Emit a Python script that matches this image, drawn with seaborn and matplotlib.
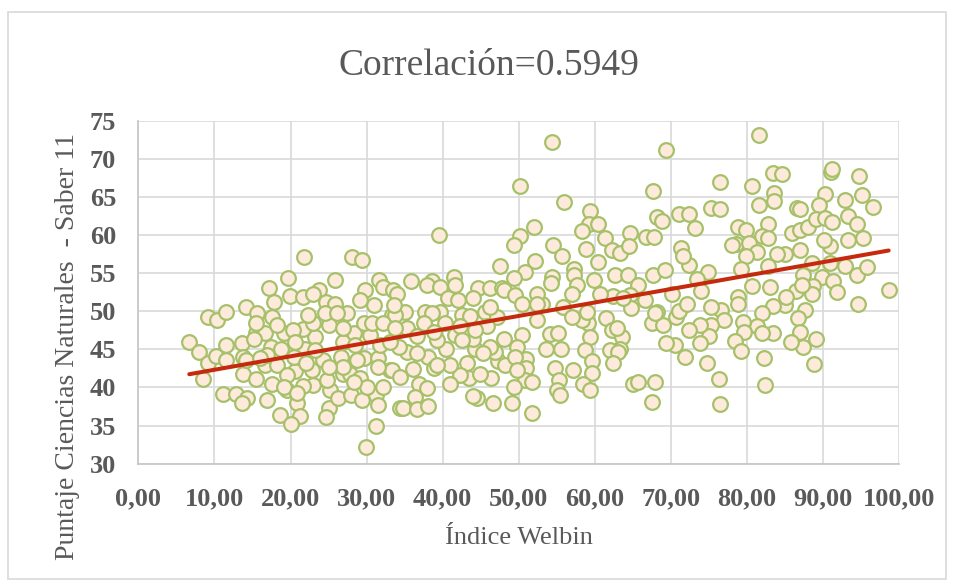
import matplotlib
matplotlib.use("Agg")
import matplotlib.pyplot as plt
import seaborn as sns
import pandas as pd
from matplotlib.patches import Rectangle

# ---- data ----
welbin = [
    21.8, 28.1, 29.4, 19.7, 25.8, 31.6, 17.2, 23.7, 29.8, 32.1,
    9.1, 10.4, 11.5, 14.2, 15.6, 17.6, 17.8, 19.9, 21.6, 22.9, 24.6, 25.8, 27.4, 29.1, 31.0, 33.4,
    6.7, 8.0, 9.1, 8.5, 10.2, 11.5, 11.5, 13.6, 13.8, 13.8, 15.5, 15.5, 16.7, 17.5, 16.7, 17.6,
    19.5, 20.8, 21.3, 18.6, 20.1, 11.1, 12.8, 14.3, 16.9, 13.6, 25.0, 24.7, 22.9, 21.7, 25.2,
    26.3, 28.0, 29.4, 31.2, 31.5, 31.2, 29.9, 34.4, 20.6, 22.8, 24.8, 26.9, 27.8, 29.1, 29.6,
    31.5, 32.2, 33.1, 26.7, 24.3, 21.9, 23.2, 21.7, 22.9, 25.1, 26.9, 28.3, 30.4, 29.6, 31.8,
    19.1, 18.8, 16.9, 15.2, 14.2, 18.2, 19.5, 19.1,
    54.3, 50.1, 56.0, 39.5, 59.4, 59.2, 60.4, 58.3, 61.3, 52.0, 50.2, 49.4, 54.5, 55.7, 58.8,
    60.4, 62.2, 63.3, 64.6, 64.5, 66.7, 67.7, 68.1, 52.1, 47.5, 50.8, 49.4, 57.2, 57.2, 54.4,
    54.2, 57.7, 59.9, 62.6, 64.4, 65.7, 67.7, 41.5, 35.8, 38.6, 37.9, 39.6, 41.6, 44.6, 46.2,
    47.8, 33.5,
    34.0, 40.7, 48.0, 49.5, 53.0, 55.8, 62.4, 64.6, 66.6, 64.8, 68.1, 67.5, 61.5, 59.1, 59.4,
    58.3, 57.0, 62.2, 63.5, 63.3, 62.0, 63.0, 62.4, 58.7, 59.6, 59.6, 58.5, 59.3, 57.1, 54.8,
    55.3, 55.0, 55.4, 55.5, 53.6, 54.1, 55.2, 52.4, 50.4, 49.7, 50.9, 50.9, 50.8, 51.7, 49.4,
    49.1, 51.8, 46.6, 44.5, 44.0, 46.4, 47.3, 48.2, 49.5, 46.9, 44.2, 43.2, 43.4, 42.3, 44.9,
    41.0, 40.9, 40.4, 39.2, 38.1, 38.8, 36.1, 35.3, 34.3, 33.3, 36.9, 37.9, 36.4, 34.8, 36.6,
    38.1, 42.6, 43.6, 45.6, 47.1, 45.8, 48.0, 44.0, 41.6, 39.6, 37.7, 35.0, 33.7, 37.7, 35.3,
    40.3, 44.0, 42.0, 52.4, 57.0, 58.9, 60.7, 65.0, 65.7, 67.5, 67.9,
    69.3, 81.5, 76.4, 80.7, 83.4, 84.6, 91.0, 91.2, 94.7, 95.1, 96.5, 92.8, 90.3, 89.5, 83.5,
    83.5, 81.6, 86.5, 86.9, 75.2, 76.5, 71.0, 72.4, 68.8, 73.2, 78.8, 79.9, 82.7, 81.9, 82.8,
    78.5, 80.2, 81.3, 79.8, 79.2, 74.8, 73.4, 72.4, 71.3, 71.6, 69.2, 67.8, 85.9, 86.9, 88.0,
    89.0, 90.2, 91.2, 93.3, 94.4, 95.2, 93.3, 90.9, 90.1, 86.9, 85.0, 83.9, 82.8, 87.4, 88.5,
    90.9, 92.9, 94.4, 95.8, 89.8, 91.3, 98.6, 80.6, 83.0, 78.0,
    94.6, 91.8, 88.7, 88.5, 87.6, 86.7, 87.0, 89.0, 87.3, 85.8, 88.8, 85.0, 83.4, 82.0, 83.4,
    81.3, 82.0, 82.2, 82.4, 79.4, 79.6, 78.4, 79.2, 78.8, 78.8, 76.6, 77.0, 75.3, 75.3, 75.0,
    73.8, 73.8, 72.3, 74.7, 76.3, 76.4, 71.8, 70.5, 69.4, 69.0, 70.7, 71.0, 67.9, 72.1, 74.0,
    70.1, 86.4, 87.2, 85.1,
    15.5, 18.2, 16.0, 20.3, 20.6, 20.4, 22.3, 23.2, 22.1, 24.5, 26.1, 26.9, 26.9, 25.0, 28.5,
    28.7, 30.7, 32.2, 31.5, 33.1, 30.0, 28.3, 20.8, 33.6, 38.6, 33.7, 37.5, 38.8, 36.6, 36.6,
    39.2, 34.4, 46.2, 44.2, 42.3, 42.5, 46.2, 45.3, 49.7, 50.4, 52.4, 63.7, 62.9,
]
puntaje = [
    57.1, 57.1, 56.7, 54.3, 54.1, 54.1, 53.0, 52.8, 52.8, 53.2,
    49.2, 48.8, 49.9, 50.5, 49.8, 49.3, 51.2, 52.0, 51.8, 52.3, 51.2, 51.0, 49.7, 51.5, 50.8, 49.5,
    46.0, 44.7, 43.2, 41.1, 44.1, 45.6, 43.6, 45.8, 44.0, 41.8, 41.1, 47.2, 47.1, 45.3, 42.9, 40.4,
    39.7, 37.9, 36.2, 36.4, 35.2, 39.1, 39.1, 38.6, 38.3, 37.9, 37.3, 36.1, 40.3, 40.2, 39.7,
    38.6, 39.0, 38.4, 39.0, 37.7, 34.9, 32.2, 37.3, 42.2, 42.3, 41.0, 41.8, 41.8, 41.2, 43.8,
    43.9, 40.1, 42.3, 44.0, 43.6, 45.1, 46.6, 47.6, 48.4, 48.2, 46.0, 47.2, 46.9, 48.5, 45.6,
    47.1, 45.1, 44.2, 46.4, 43.6, 42.9, 41.6, 40.1,
    72.2, 66.4, 64.3, 60.0, 63.2, 61.5, 61.4, 60.5, 59.6, 61.1, 59.9, 58.7, 58.7, 57.2, 58.1,
    56.4, 58.0, 57.7, 60.2, 58.6, 59.7, 65.8, 62.4, 56.6, 55.9, 55.1, 54.4, 55.5, 54.8, 54.5,
    53.7, 53.4, 54.1, 54.7, 54.7, 53.4, 54.7, 54.5, 54.0, 54.0, 53.4, 53.2, 53.4, 53.0, 53.1,
    53.0, 52.8,
    52.3, 51.7, 52.8, 52.1, 50.9, 50.6, 52.0, 52.1, 51.5, 50.4, 49.9, 48.4, 49.1, 48.4, 46.6,
    48.8, 49.3, 47.5, 46.6, 45.1, 44.9, 44.6, 43.2, 44.9, 43.4, 41.9, 40.5, 39.7, 42.3, 42.6,
    41.0, 39.7, 39.0, 45.0, 45.1, 47.0, 47.1, 48.8, 46.9, 45.3, 43.7, 42.5, 41.0, 40.7, 40.0,
    37.9, 36.6, 38.0, 38.6, 38.9, 41.2, 43.4, 42.9, 44.0, 44.7, 45.0, 43.2, 41.2, 41.6, 41.8,
    40.4, 42.9, 45.1, 46.2, 44.0, 42.6, 42.4, 44.6, 45.3, 42.3, 40.5, 39.9, 38.8, 37.3, 37.1,
    37.6, 49.5, 49.4, 49.9, 49.3, 48.0, 46.4, 46.4, 46.9, 49.9, 49.9, 49.9, 49.5, 48.0, 47.8,
    48.4, 51.7, 51.5, 52.3, 52.3, 49.9, 52.3, 40.5, 40.7, 38.1, 40.7,
    71.2, 73.1, 66.9, 66.4, 68.1, 68.0, 68.3, 68.6, 67.7, 65.2, 63.7, 64.6, 65.4, 63.9, 65.5,
    64.4, 64.0, 63.5, 63.4, 63.6, 63.4, 62.8, 62.8, 61.8, 60.9, 61.0, 60.6, 61.4, 59.9, 59.6,
    58.8, 59.0, 57.8, 57.2, 55.5, 55.1, 54.2, 56.1, 58.3, 57.2, 55.4, 59.8, 60.2, 60.7, 61.1,
    62.1, 62.2, 61.7, 62.5, 61.5, 59.6, 59.4, 58.5, 59.3, 58.0, 57.5, 57.5, 55.9, 54.7, 56.3,
    56.3, 55.9, 54.7, 55.8, 54.5, 53.9, 52.8, 53.3, 53.2, 58.7,
    51.0, 52.5, 53.3, 52.3, 50.2, 49.1, 47.3, 46.4, 45.3, 45.9, 43.1, 50.8, 50.7, 49.8, 47.2,
    48.1, 47.1, 43.8, 40.3, 48.6, 47.3, 46.1, 44.8, 51.9, 50.9, 50.2, 48.8, 50.5, 48.2, 46.7,
    48.2, 45.8, 47.5, 43.2, 41.1, 37.8, 44.0, 45.6, 45.8, 48.2, 49.3, 50.0, 49.7, 50.9, 52.6,
    52.3, 52.6, 53.4, 51.9,
    48.4, 48.2, 43.8, 47.5, 46.0, 44.0, 49.5, 44.9, 43.2, 49.7, 49.7, 47.8, 42.7, 42.7, 45.6,
    43.6, 48.4, 48.4, 42.7, 46.0, 40.1, 40.7, 39.2, 50.8, 49.7, 47.8, 48.4, 47.3, 46.7, 44.5,
    42.9, 41.4, 50.6, 47.5, 48.0, 46.2, 45.3, 44.5, 42.3, 51.0, 51.0, 51.7, 47.8,
]
x_ticks = [0, 10, 20, 30, 40, 50, 60, 70, 80, 90, 100]
y_ticks = [30, 35, 40, 45, 50, 55, 60, 65, 70, 75]
title = "Correlación=0.5949"
x_label = "Índice Welbin"
y_label = "Puntaje Ciencias Naturales  - Saber 11"

df = pd.DataFrame({"welbin": welbin, "puntaje": puntaje})

sns.set_theme(style="white")
plt.rcParams["font.family"] = ["Liberation Serif", "DejaVu Serif"]

W, H = 954, 582
fig = plt.figure(figsize=(W / 100, H / 100), dpi=100)
ax = fig.add_axes([138.3 / W, 1 - 463.6 / H, (899.3 - 138.3) / W, (463.6 - 120.7) / H])

sns.regplot(
    data=df, x="welbin", y="puntaje", ax=ax, ci=None,
    scatter_kws=dict(s=112, facecolor="#FDEADB", edgecolor="#A6C16A",
                     linewidths=1.6, alpha=1, zorder=3),
    line_kws=dict(color="#C52A0E", linewidth=2.9, zorder=4),
)

ax.set_xlim(0, 100)
ax.set_ylim(30, 75)
ax.set_xticks(x_ticks)
ax.set_yticks(y_ticks)
ax.set_xticklabels([f"{v:.2f}".replace(".", ",") for v in x_ticks])
ax.set_yticklabels([str(v) for v in y_ticks])
ax.grid(True, color="#D9D9D9", linewidth=1.2)
ax.set_axisbelow(True)
for s in ["top", "right"]:
    ax.spines[s].set_visible(False)
for s in ["left", "bottom"]:
    ax.spines[s].set_color("#C8C8C8")
    ax.spines[s].set_linewidth(1.3)
ax.tick_params(axis="both", length=0, labelcolor="#595959", labelsize=19)
ax.tick_params(axis="x", pad=17)
ax.tick_params(axis="y", pad=16)
for lab in ax.get_xticklabels() + ax.get_yticklabels():
    lab.set_fontweight("bold")

ax.set_xlabel(x_label, fontsize=19, color="#595959", labelpad=12)
ax.set_ylabel(y_label, fontsize=20, color="#595959")
ax.yaxis.set_label_coords((80 - 138.3) / 761.0, (463.6 - 346) / (463.6 - 120.7))

fig.text(489 / W, 1 - 66 / H, title, ha="center", va="center", fontsize=27, color="#595959")

fig.patches.append(Rectangle((8 / W, 3 / H), (946 - 8) / W, (570 - 3) / H,
                             transform=fig.transFigure, fill=False,
                             edgecolor="#D9D9D9", linewidth=1.2))

fig.savefig("out.png", dpi=100)
